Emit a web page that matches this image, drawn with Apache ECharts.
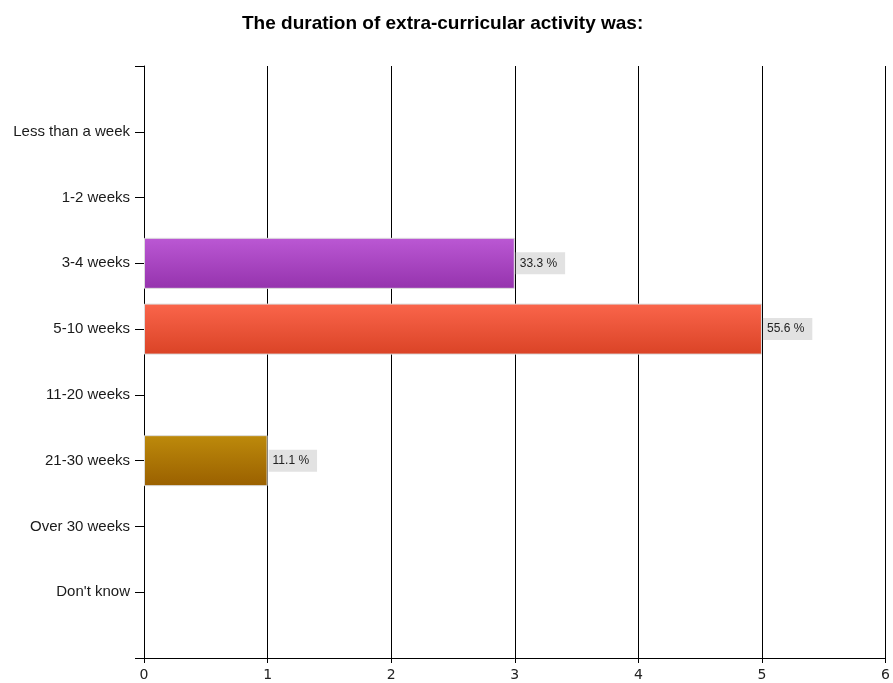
<!DOCTYPE html>
<html>
<head>
<meta charset="utf-8">
<title>The duration of extra-curricular activity was:</title>
<script src="https://cdn.jsdelivr.net/npm/echarts@6/dist/echarts.min.js"></script>
<style>
  html, body { margin: 0; padding: 0; background: #ffffff; }
  #chart { width: 893px; height: 683px; }
</style>
</head>
<body>
<div id="chart"></div>
<script>
// Survey answers, top to bottom
const durationCategories = [
  'Less than a week', '1-2 weeks', '3-4 weeks', '5-10 weeks',
  '11-20 weeks', '21-30 weeks', 'Over 30 weeks', "Don't know"
];
// Number of respondents per answer
const responseCounts = [0, 0, 3, 5, 0, 1, 0, 0];
// Share of respondents, as printed beside each bar
const responsePercents = [0, 0, 33.3, 55.6, 0, 11.1, 0, 0];
// Bar gradients (top, bottom) per answer
const barGradients = [
  ['#5b9bd5', '#3f7fbf'], ['#70ad47', '#548c34'],
  ['#bb58d4', '#9533ad'], ['#fa654b', '#da4326'],
  ['#4bacc6', '#2f8ea8'], ['#bd8a0b', '#9a6000'],
  ['#7f7f7f', '#5f5f5f'], ['#ffc000', '#d9a000']
];
const xTickValues = [0, 1, 2, 3, 4, 5, 6];

// Blank slots above and below keep the answers evenly inset from the frame
const yData = [''].concat(durationCategories, ['']);

const seriesData = [null].concat(responseCounts.map(function (v, i) {
  return {
    value: v === 0 ? '-' : v,
    percent: responsePercents[i],
    itemStyle: {
      color: new echarts.graphic.LinearGradient(0, 0, 0, 1, [
        { offset: 0, color: barGradients[i][0] },
        { offset: 1, color: barGradients[i][1] }
      ])
    },
    label: { show: v !== 0 }
  };
}), [null]);

const chart = echarts.init(document.getElementById('chart'), null, { renderer: 'canvas' });

chart.setOption({
  animation: false,
  backgroundColor: '#ffffff',
  title: {
    text: 'The duration of extra-curricular activity was:',
    left: 237,
    top: 9,
    textStyle: {
      fontFamily: 'Liberation Sans, Arial, sans-serif',
      fontSize: 19,
      fontWeight: 'bold',
      color: '#000000'
    }
  },
  grid: { left: 144, right: 7, top: 66, bottom: 25, containLabel: false },
  xAxis: {
    type: 'value',
    min: xTickValues[0],
    max: xTickValues[xTickValues.length - 1],
    interval: 1,
    axisLine: { show: true, onZero: false, lineStyle: { color: '#000000', width: 1 } },
    axisTick: { show: true, length: 5, lineStyle: { color: '#000000' } },
    splitLine: { show: true, lineStyle: { color: '#000000', width: 1 } },
    axisLabel: {
      margin: 10,
      fontFamily: 'DejaVu Sans, sans-serif',
      fontSize: 14,
      color: '#222222'
    }
  },
  yAxis: {
    type: 'category',
    inverse: true,
    boundaryGap: false,
    data: yData,
    axisLine: { show: true, lineStyle: { color: '#000000', width: 1 } },
    axisTick: { show: true, length: 9, alignWithLabel: true, lineStyle: { color: '#000000' } },
    splitLine: { show: false },
    axisLabel: {
      margin: 14,
      fontFamily: 'Liberation Sans, Arial, sans-serif',
      fontSize: 15,
      color: '#1a1a1a'
    }
  },
  series: [{
    type: 'bar',
    data: seriesData,
    barWidth: 51,
    itemStyle: { borderColor: '#dcdcdc', borderWidth: 1 },
    label: {
      position: 'right',
      distance: 1,
      formatter: function (p) { return p.data.percent.toFixed(1) + ' %'; },
      backgroundColor: '#e2e2e2',
      padding: [5, 8, 5, 4],
      fontFamily: 'Liberation Sans, Arial, sans-serif',
      fontSize: 12,
      color: '#222222'
    }
  }]
});
</script>
</body>
</html>
